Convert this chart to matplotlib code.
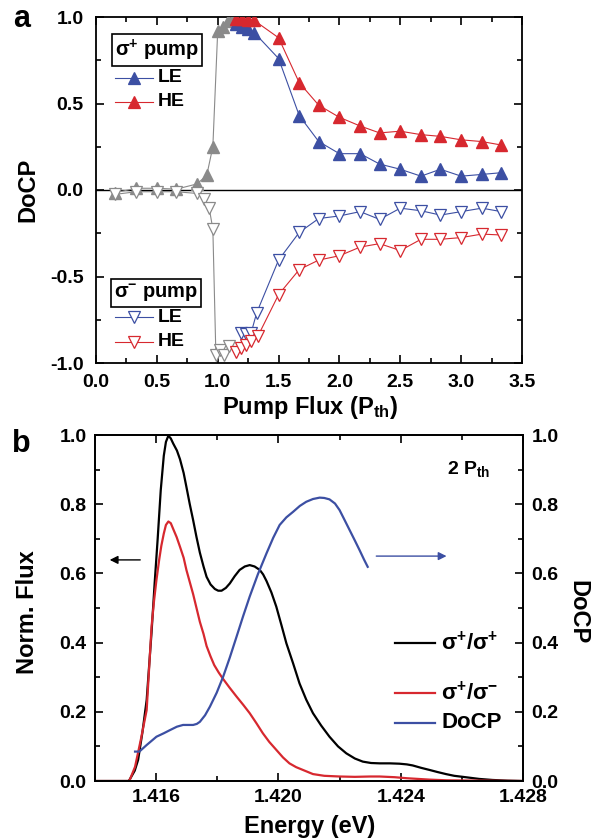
import matplotlib
matplotlib.use("Agg")
import matplotlib.pyplot as plt
from matplotlib.ticker import MultipleLocator, FormatStrFormatter

plt.rcParams['font.family'] = ['Liberation Sans', 'DejaVu Sans']
plt.rcParams['font.weight'] = 'bold'
plt.rcParams['mathtext.fontset'] = 'custom'
plt.rcParams['mathtext.rm'] = 'Liberation Sans'
plt.rcParams['mathtext.bf'] = 'Liberation Sans:bold'
plt.rcParams['mathtext.it'] = 'Liberation Sans:italic'

BLUE = '#3c4fa3'
RED = '#d7282f'
GRAY = '#8a8a8a'

# ---------------- Panel a data ----------------
# sigma+ pump (filled up triangles)
gray_up_P = [0.16, 0.33, 0.50, 0.66, 0.83, 0.91, 0.96, 1.00, 1.04, 1.085, 1.125]
gray_up_D = [-0.015, 0.01, 0.01, 0.005, 0.035, 0.085, 0.25, 0.92, 0.945, 0.975, 0.995]

le_up_P = [1.15, 1.20, 1.25, 1.30, 1.50, 1.67, 1.83, 2.00, 2.17, 2.33, 2.50, 2.67, 2.83, 3.00, 3.17, 3.33]
le_up_D = [0.96, 0.94, 0.93, 0.91, 0.76, 0.43, 0.28, 0.21, 0.21, 0.15, 0.12, 0.08, 0.12, 0.08, 0.09, 0.10]

he_up_P = [1.15, 1.20, 1.25, 1.30, 1.50, 1.67, 1.83, 2.00, 2.17, 2.33, 2.50, 2.67, 2.83, 3.00, 3.17, 3.33]
he_up_D = [0.99, 0.99, 0.985, 0.98, 0.88, 0.62, 0.49, 0.42, 0.37, 0.33, 0.34, 0.32, 0.31, 0.29, 0.28, 0.26]

# sigma- pump (open down triangles)
gray_dn_P = [0.16, 0.33, 0.50, 0.66, 0.83, 0.89, 0.93, 0.96, 0.985, 1.02, 1.05, 1.09]
gray_dn_D = [-0.025, -0.01, -0.01, -0.01, -0.02, -0.05, -0.105, -0.225, -0.955, -0.925, -0.955, -0.90]

le_dn_P = [1.19, 1.235, 1.275, 1.32, 1.50, 1.67, 1.83, 2.00, 2.17, 2.33, 2.50, 2.67, 2.83, 3.00, 3.17, 3.33]
le_dn_D = [-0.825, -0.83, -0.825, -0.71, -0.405, -0.245, -0.165, -0.15, -0.125, -0.17, -0.105, -0.12, -0.145, -0.125, -0.105, -0.125]

he_dn_P = [1.15, 1.19, 1.235, 1.275, 1.33, 1.50, 1.67, 1.83, 2.00, 2.17, 2.33, 2.50, 2.67, 2.83, 3.00, 3.17, 3.33]
he_dn_D = [-0.935, -0.915, -0.895, -0.875, -0.845, -0.605, -0.46, -0.405, -0.38, -0.33, -0.31, -0.35, -0.285, -0.285, -0.275, -0.255, -0.26]

# ---------------- Panel b data ----------------
E_black = [1.4140, 1.4151, 1.41514, 1.41530, 1.41541, 1.41555, 1.41569, 1.41585, 1.41595, 1.41605,
           1.41615, 1.41625, 1.41632, 1.41640, 1.41648, 1.41656, 1.41668, 1.41678, 1.41690, 1.41699,
           1.41710, 1.41721, 1.41732, 1.41743, 1.41755, 1.41765, 1.41778, 1.41792, 1.41803, 1.41814,
           1.41828, 1.41841, 1.41857, 1.41873, 1.41890, 1.41906, 1.41922, 1.41939, 1.41950, 1.41961,
           1.41977, 1.41993, 1.42010, 1.42026, 1.42048, 1.42069, 1.42091, 1.42113, 1.42140, 1.42167,
           1.42195, 1.42222, 1.42250, 1.42276, 1.42303, 1.42331, 1.42365, 1.42396, 1.42420, 1.42439,
           1.42467, 1.42494, 1.42520, 1.42548, 1.42575, 1.42603, 1.42630, 1.42657, 1.42700, 1.42750,
           1.4280]
F_black = [0.0, 0.0, 0.005, 0.03, 0.061, 0.14, 0.234, 0.43, 0.57, 0.70,
           0.84, 0.94, 0.98, 0.998, 0.99, 0.975, 0.955, 0.93, 0.89, 0.85,
           0.80, 0.754, 0.705, 0.66, 0.62, 0.59, 0.568, 0.555, 0.55, 0.55,
           0.558, 0.571, 0.592, 0.61, 0.62, 0.624, 0.62, 0.61, 0.597, 0.578,
           0.545, 0.504, 0.45, 0.398, 0.34, 0.282, 0.235, 0.196, 0.16, 0.128,
           0.10, 0.08, 0.065, 0.056, 0.052, 0.051, 0.051, 0.05, 0.048, 0.045,
           0.038, 0.032, 0.026, 0.02, 0.015, 0.012, 0.009, 0.006, 0.003, 0.001,
           0.0]

E_red = [1.4140, 1.4151, 1.41514, 1.41531, 1.41550, 1.41569, 1.41585, 1.41593, 1.41601, 1.41610,
         1.41617, 1.41625, 1.41632, 1.41640, 1.41648, 1.41656, 1.41667, 1.41678, 1.41690, 1.41699,
         1.41710, 1.41721, 1.41732, 1.41743, 1.41755, 1.41765, 1.41778, 1.41790, 1.41805, 1.41819,
         1.41840, 1.41863, 1.41885, 1.41906, 1.41928, 1.41949, 1.41970, 1.41993, 1.42015, 1.42036,
         1.42058, 1.42080, 1.42113, 1.42150, 1.42200, 1.42250, 1.42300, 1.42331, 1.42380, 1.42420,
         1.42494, 1.42550, 1.4280]
F_red = [0.0, 0.0, 0.004, 0.041, 0.12, 0.205, 0.446, 0.52, 0.581, 0.64,
         0.68, 0.715, 0.74, 0.75, 0.745, 0.728, 0.705, 0.677, 0.645, 0.61,
         0.575, 0.54, 0.50, 0.46, 0.425, 0.39, 0.36, 0.335, 0.313, 0.295,
         0.27, 0.244, 0.22, 0.196, 0.167, 0.138, 0.113, 0.09, 0.068, 0.051,
         0.04, 0.032, 0.02, 0.015, 0.013, 0.012, 0.013, 0.013, 0.011, 0.008,
         0.004, 0.002, 0.0]

E_docp = [1.41531, 1.41545, 1.41569, 1.41601, 1.41625, 1.41645, 1.41668, 1.41688, 1.41705, 1.41721,
          1.41733, 1.41743, 1.41760, 1.41776, 1.41798, 1.41819, 1.41841, 1.41863, 1.41884, 1.41906,
          1.41933, 1.41961, 1.41983, 1.42004, 1.42026, 1.42048, 1.42070, 1.42091, 1.42113, 1.42135,
          1.42150, 1.42167, 1.42185, 1.42200, 1.42216, 1.42233, 1.42250, 1.42265, 1.42280, 1.42292]
D_docp = [0.085, 0.085, 0.104, 0.128, 0.138, 0.147, 0.157, 0.162, 0.162, 0.162,
          0.165, 0.171, 0.19, 0.215, 0.255, 0.301, 0.357, 0.417, 0.475, 0.533,
          0.598, 0.658, 0.703, 0.74, 0.762, 0.778, 0.795, 0.807, 0.815, 0.819,
          0.818, 0.814, 0.802, 0.783, 0.755, 0.725, 0.695, 0.668, 0.64, 0.619]

xticks_b = [1.416, 1.420, 1.424, 1.428]

W, H = 592, 840
fig = plt.figure(figsize=(5.92, 8.40), dpi=100)

def fx(px):
    return px / W

def fy(py):
    return 1 - py / H

TICK = 14
LAB = 17

# ---------------- Panel a ----------------
axa = fig.add_axes([96/W, 1-363/H, 426/W, 346/H])
ms = 8
lw = 0.8
axa.axhline(0, color='black', lw=1.0, zorder=1)
axa.plot(gray_up_P, gray_up_D, '-^', color=GRAY, mfc=GRAY, mec=GRAY, ms=ms, lw=lw, zorder=3)
axa.plot(gray_dn_P, gray_dn_D, '-v', color=GRAY, mfc='white', mec=GRAY, ms=ms, lw=lw, mew=0.9, zorder=3)
axa.plot(le_dn_P, le_dn_D, '-v', color=BLUE, mfc='white', mec=BLUE, ms=ms, lw=lw, mew=0.9, zorder=4)
axa.plot(he_dn_P, he_dn_D, '-v', color=RED, mfc='white', mec=RED, ms=ms, lw=lw, mew=0.9, zorder=4)
axa.plot(le_up_P, le_up_D, '-^', color=BLUE, mfc=BLUE, mec=BLUE, ms=ms, lw=lw, zorder=4)
axa.plot(he_up_P, he_up_D, '-^', color=RED, mfc=RED, mec=RED, ms=ms, lw=lw, zorder=5)

axa.set_xlim(0, 3.5)
axa.set_ylim(-1.0, 1.0)
axa.xaxis.set_major_locator(MultipleLocator(0.5))
axa.xaxis.set_minor_locator(MultipleLocator(0.25))
axa.yaxis.set_major_locator(MultipleLocator(0.5))
axa.yaxis.set_minor_locator(MultipleLocator(0.25))
axa.tick_params(which='both', direction='in', top=True, right=True, labelsize=TICK, width=1.2)
axa.tick_params(which='major', length=6)
axa.tick_params(which='minor', length=3.5)
axa.tick_params(axis='y', pad=9)
axa.tick_params(axis='x', pad=8)
axa.xaxis.set_major_formatter(FormatStrFormatter('%.1f'))
axa.yaxis.set_major_formatter(FormatStrFormatter('%.1f'))
for s in axa.spines.values():
    s.set_linewidth(1.3)

fig.text(fx(28), fy(190), 'DoCP', rotation=90, fontsize=LAB, fontweight='bold', ha='center', va='center')
fig.text(fx(310), fy(407), r'Pump Flux (P$_{\mathbf{th}}$)', fontsize=LAB, fontweight='bold',
         ha='center', va='center')
fig.text(fx(13), fy(27), 'a', fontsize=22, fontweight='bold')

# legends (panel a)
def box_label(ax, x, y, sign):
    ax.text(x, y, r'$\mathrm{\sigma}^{\mathbf{%s}}$' % sign + ' pump', transform=ax.transAxes, fontsize=14.5,
            fontweight='bold', va='center', ha='left',
            bbox=dict(boxstyle='square,pad=0.15', fc='white', ec='black', lw=1.2))

box_label(axa, (115-96)/426, 1-(50-17)/346, '+')
box_label(axa, (114-96)/426, 1-(293-17)/346, '-')

def leg_row(ax, y, color, marker, filled, label):
    x0, x1 = (115-96)/426, (153-96)/426
    ax.plot([x0, x1], [y, y], '-', color=color, lw=lw, transform=ax.transAxes)
    ax.plot([(x0+x1)/2], [y], marker, color=color, mfc=color if filled else 'white', mec=color,
            ms=ms, mew=0.9, transform=ax.transAxes)
    ax.text((158-96)/426, y, label, transform=ax.transAxes, fontsize=14, fontweight='bold',
            va='center', ha='left')

leg_row(axa, 1-(78-17)/346, BLUE, '^', True, 'LE')
leg_row(axa, 1-(102-17)/346, RED, '^', True, 'HE')
leg_row(axa, 1-(317-17)/346, BLUE, 'v', False, 'LE')
leg_row(axa, 1-(342-17)/346, RED, 'v', False, 'HE')

# ---------------- Panel b ----------------
axb = fig.add_axes([95/W, 1-781/H, 428/W, 346/H])
axb.plot(E_black, F_black, '-', color='black', lw=1.6)
axb.plot(E_red, F_red, '-', color=RED, lw=1.6)
axr = axb.twinx()
axr.plot(E_docp, D_docp, '-', color=BLUE, lw=1.6)

axb.set_xlim(1.414, 1.428)
axb.set_ylim(0, 1.0)
axr.set_ylim(0, 1.0)
axb.set_xticks(xticks_b)
axb.xaxis.set_minor_locator(MultipleLocator(0.002))
axb.xaxis.set_major_formatter(FormatStrFormatter('%.3f'))
for ax in (axb, axr):
    ax.yaxis.set_major_locator(MultipleLocator(0.2))
    ax.yaxis.set_minor_locator(MultipleLocator(0.1))
    ax.yaxis.set_major_formatter(FormatStrFormatter('%.1f'))
axb.tick_params(which='both', direction='in', top=True, labelsize=TICK, width=1.2)
axr.tick_params(which='both', direction='in', labelsize=TICK, width=1.2)
axb.tick_params(axis='y', pad=6)
axr.tick_params(axis='y', pad=6)
axb.tick_params(axis='x', pad=6)
for ax in (axb, axr):
    ax.tick_params(which='major', length=6)
    ax.tick_params(which='minor', length=3.5)
    for s in ax.spines.values():
        s.set_linewidth(1.3)

fig.text(fx(28), fy(612), 'Norm. Flux', rotation=90, fontsize=LAB, fontweight='bold', ha='center', va='center')
fig.text(fx(310), fy(826), 'Energy (eV)', fontsize=LAB, fontweight='bold', ha='center', va='center')
fig.text(fx(578), fy(612), 'DoCP', rotation=-90, fontsize=LAB, fontweight='bold', ha='center', va='center')
fig.text(fx(12), fy(452), 'b', fontsize=22, fontweight='bold')

# arrows
axb.annotate('', xy=(1.41439, 0.639), xytext=(1.41557, 0.639),
             arrowprops=dict(arrowstyle='-|>', color='black', lw=1.0, mutation_scale=12))
axb.annotate('', xy=(1.42559, 0.65), xytext=(1.42311, 0.65),
             arrowprops=dict(arrowstyle='-|>', color=BLUE, lw=1.0, mutation_scale=12))

axb.text((447-95)/428, 1-(469-435)/346, r'2 P$_{\mathbf{th}}$', transform=axb.transAxes,
         fontsize=14, fontweight='bold', va='center', ha='left')

# panel b legend
rows = [(643, 'black', r'$\mathrm{\sigma}^{\mathbf{+}}\mathrm{/\sigma}^{\mathbf{+}}$'),
        (693, RED, r'$\mathrm{\sigma}^{\mathbf{+}}\mathrm{/\sigma}^{\mathbf{-}}$'),
        (723, BLUE, 'DoCP')]
for py, c, lab in rows:
    y = 1-(py-435)/346
    axb.plot([(395-95)/428, (435-95)/428], [y, y], '-', color=c, lw=1.6, transform=axb.transAxes)
    axb.text((441-95)/428, y, lab, transform=axb.transAxes, fontsize=16, fontweight='bold',
             va='center', ha='left')

fig.savefig('out.png', dpi=100)
